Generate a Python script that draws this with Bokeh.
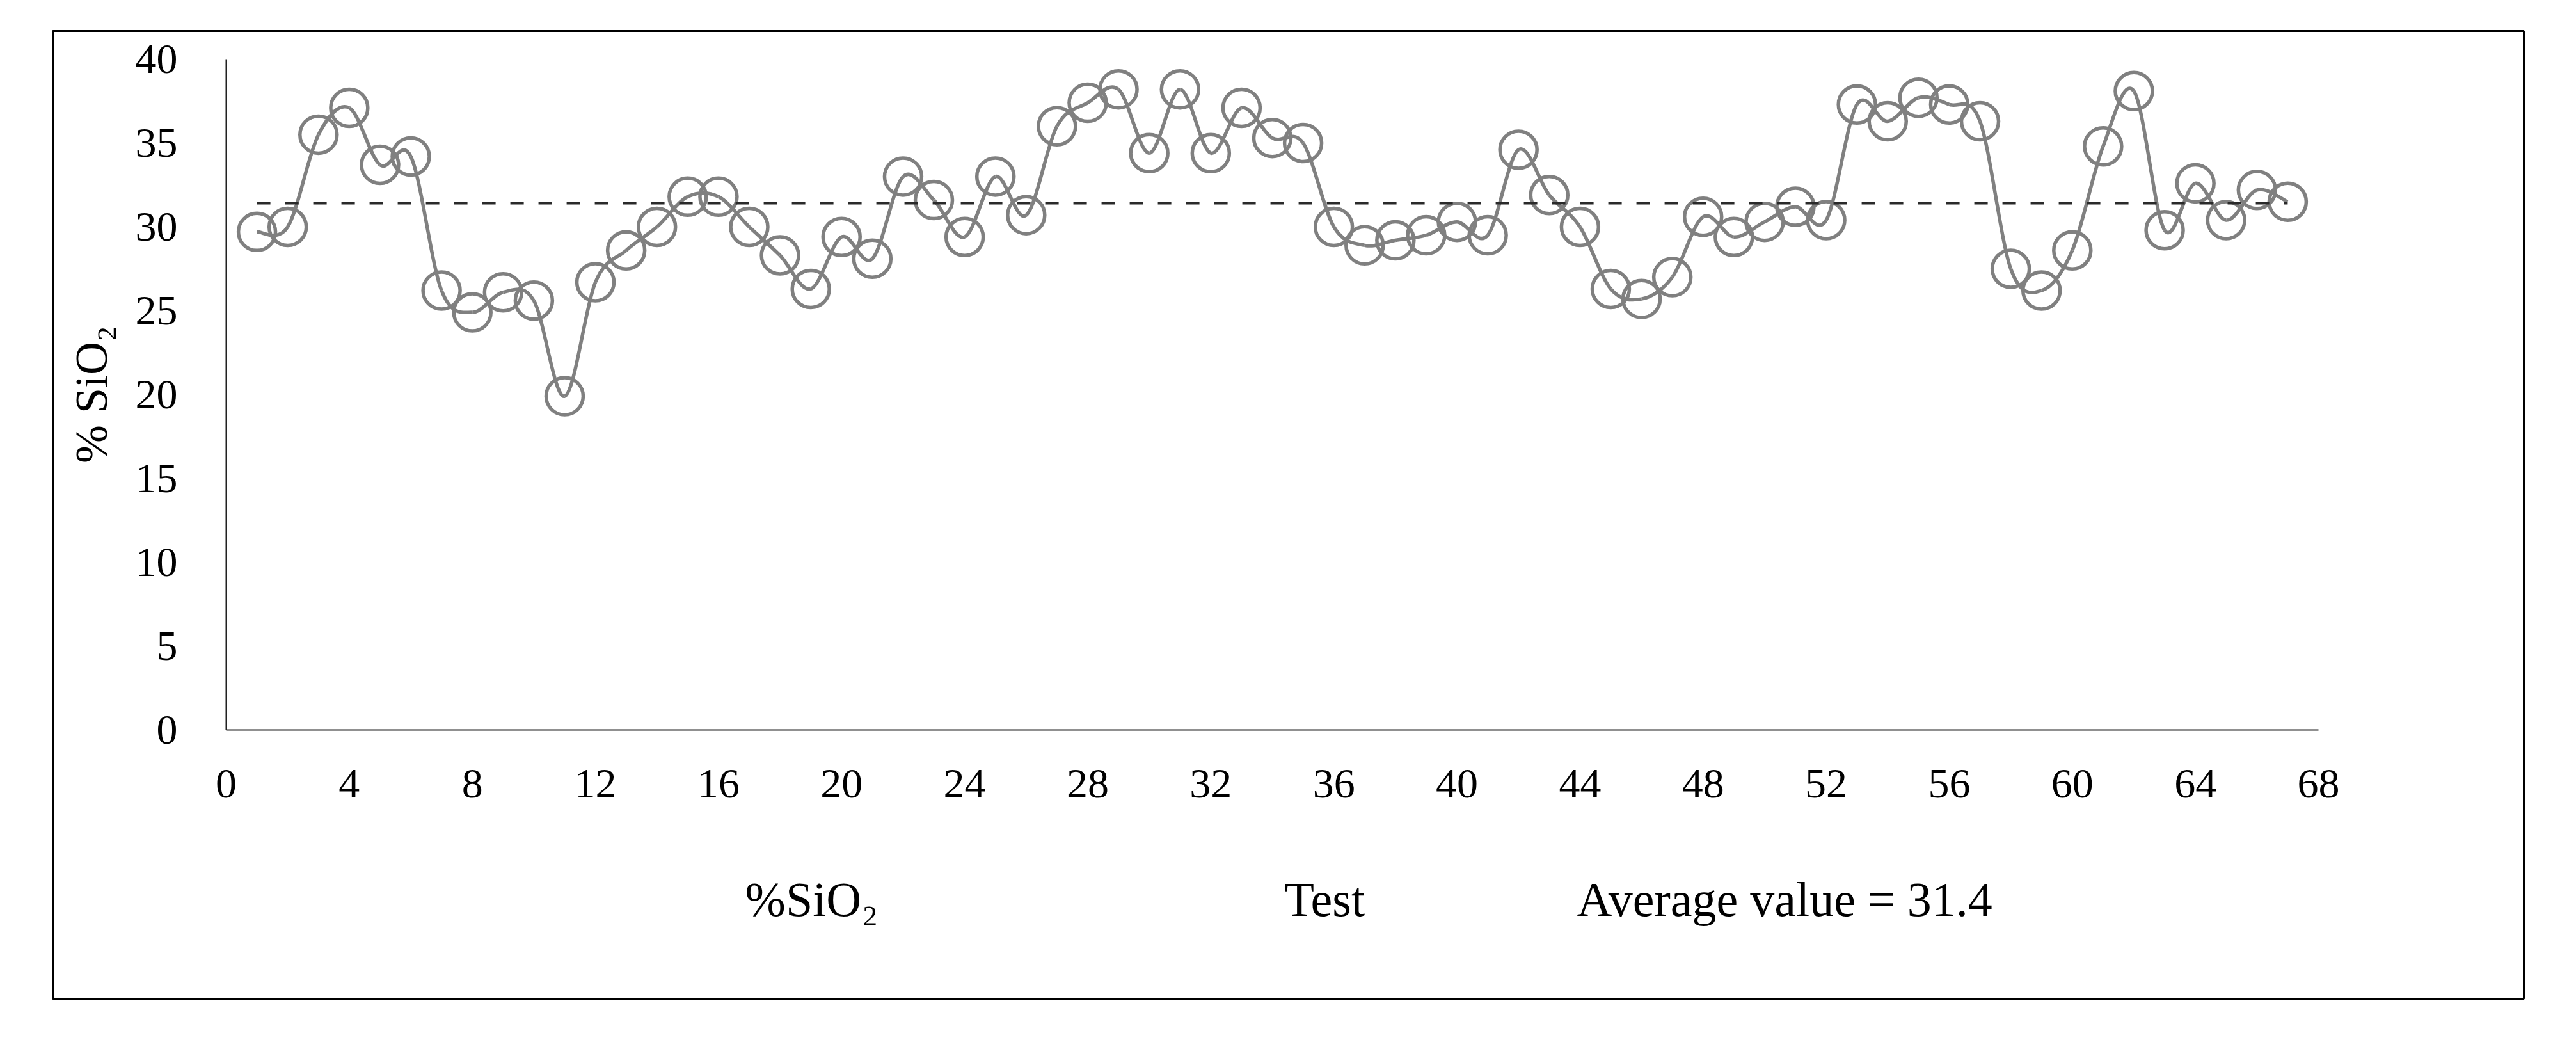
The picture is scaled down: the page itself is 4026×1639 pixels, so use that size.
import numpy as np
from bokeh.plotting import figure
from bokeh.models import Range1d, FixedTicker, Label
from bokeh.embed import file_html
from bokeh.resources import INLINE

# ---- data ----
test_ids = list(range(1, 68))
sio2 = [29.7, 30.0, 35.5, 37.1, 33.7, 34.2, 26.2, 24.9, 26.1, 25.6,
        19.9, 26.7, 28.6, 30.0, 31.8, 31.8, 30.0, 28.3, 26.3, 29.4,
        28.1, 33.0, 31.6, 29.4, 33.0, 30.7, 36.0, 37.4, 38.2, 34.4,
        38.2, 34.4, 37.1, 35.3, 35.0, 30.0, 28.9, 29.2, 29.5, 30.3,
        29.5, 34.6, 31.9, 30.0, 26.3, 25.7, 27.0, 30.6, 29.4, 30.3,
        31.2, 30.4, 37.3, 36.3, 37.7, 37.3, 36.3, 27.5, 26.2, 28.6,
        34.8, 38.1, 29.8, 32.6, 30.4, 32.2, 31.5]
avg_value = 31.4
x_ticks = list(range(0, 69, 4))
y_ticks = list(range(0, 41, 5))
y_title = "% SiO\u2082"
series_label = "%SiO\u2082"
x_title = "Test"
avg_label = "Average value = 31.4"

FONT = "Liberation Serif"
GRAY = "#808080"

# ---- layout (pixels on the page) ----
FR_L, FR_T, FR_R, FR_B = 82, 48, 3944, 1560       # outer bordered frame
AX_X0, AX_X68 = 353, 3623                         # x = 0 and x = 68
AX_Y0, AX_Y40 = 1140, 92                          # y = 0 and y = 40
ppx = (AX_X68 - AX_X0) / 68.0
ppy = (AX_Y0 - AX_Y40) / 40.0
x_lo = (FR_L - AX_X0) / ppx
x_hi = (FR_R - AX_X0) / ppx
y_hi = (AX_Y0 - FR_T) / ppy
y_lo = (AX_Y0 - FR_B) / ppy

# ---- smoothed line (Excel-like Bezier segments through the data points) ----
x = np.array(test_ids, dtype=float)
y = np.array(sio2, dtype=float)
n = len(x)
xp = np.concatenate([[x[0]], x, [x[-1]]])
yp = np.concatenate([[y[0]], y, [y[-1]]])
x0, y0 = x[:-1], y[:-1]
x1, y1 = x[1:], y[1:]
cx0 = x0 + (xp[2:n + 1] - xp[0:n - 1]) / 6.0
cy0 = y0 + (yp[2:n + 1] - yp[0:n - 1]) / 6.0
cx1 = x1 - (xp[3:n + 2] - xp[1:n]) / 6.0
cy1 = y1 - (yp[3:n + 2] - yp[1:n]) / 6.0

W, H = 4000, 1620
p = figure(width=W, height=H,
           x_range=Range1d(x_lo, x_hi), y_range=Range1d(y_lo, y_hi),
           output_backend="svg", toolbar_location=None,
           min_border_left=FR_L, min_border_top=FR_T,
           min_border_right=W - FR_R, min_border_bottom=H - FR_B)
p.outline_line_color = "black"
p.outline_line_width = 3
p.grid.visible = False
p.background_fill_color = "white"
p.border_fill_color = "white"

xa, ya = p.xaxis[0], p.yaxis[0]
for ax in (xa, ya):
    ax.axis_line_color = "#222222"
    ax.axis_line_width = 2
    ax.major_tick_line_color = None
    ax.minor_tick_line_color = None
    ax.major_label_text_font = FONT
    ax.major_label_text_font_size = "66px"
    ax.major_label_text_color = "black"
    ax.fixed_location = 0

xa.ticker = FixedTicker(ticks=x_ticks)
ya.ticker = FixedTicker(ticks=y_ticks)
xa.bounds = (x_ticks[0], x_ticks[-1])
ya.bounds = (y_ticks[0], y_ticks[-1])
xa.major_label_standoff = 56
ya.major_label_standoff = 70

ya.axis_label = y_title
ya.axis_label_text_font = FONT
ya.axis_label_text_font_style = "normal"
ya.axis_label_text_font_size = "72px"
ya.axis_label_text_color = "black"
ya.axis_label_standoff = 26

p.bezier(x0=x0, y0=y0, x1=x1, y1=y1, cx0=cx0, cy0=cy0, cx1=cx1, cy1=cy1,
         line_color=GRAY, line_width=5.5)
p.scatter(x=test_ids, y=sio2, marker="circle", size=58,
          fill_color=None, line_color=GRAY, line_width=5.5)
p.line(x=[test_ids[0], test_ids[-1]], y=[avg_value, avg_value],
       line_color="#2a2a2a", line_width=3.5, line_dash="21 23")

for txt, xv in ((series_label, 19.03), (x_title, 35.7), (avg_label, 50.65)):
    p.add_layout(Label(x=xv, y=-10.1, text=txt, text_font=FONT,
                       text_font_size="76px", text_color="black",
                       text_align="center", text_baseline="middle"))

open("out.html", "w").write(file_html(p, INLINE))
